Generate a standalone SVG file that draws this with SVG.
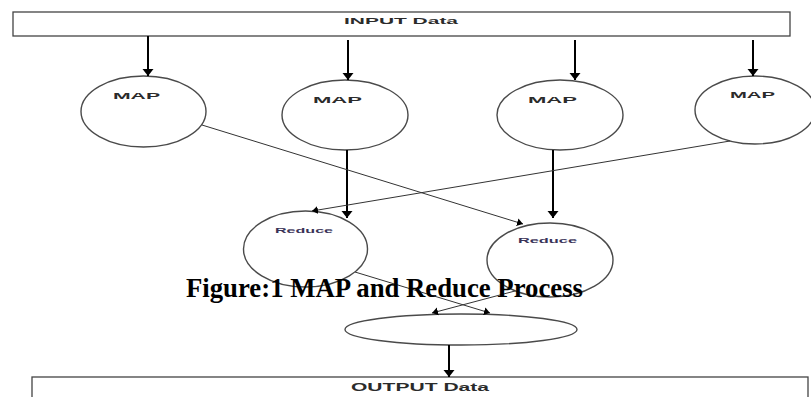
<svg xmlns="http://www.w3.org/2000/svg" width="811" height="397" viewBox="0 0 811 397">
<defs>
<style>
.box{fill:#fff;stroke:#444;stroke-width:1.3}
.node{fill:none;stroke:#4a4a4a;stroke-width:1.4}
.lbl{font-family:"Liberation Sans",Arial,sans-serif;font-weight:bold;fill:#2b2b2b}
.red{font-family:"Liberation Sans",Arial,sans-serif;font-weight:bold;fill:#3a3358}
.v{stroke:#000;stroke-width:2;fill:none}
.d{stroke:#333;stroke-width:1;fill:none}
.cap{font-family:"Liberation Serif","Times New Roman",serif;font-weight:bold;fill:#000}
</style>
<marker id="av" markerUnits="userSpaceOnUse" viewBox="0 0 7 12" markerWidth="7" markerHeight="12" refX="7" refY="6" orient="auto"><path d="M0,0.5 L7,6 L0,11.5 z" fill="#000"/></marker>
<marker id="ad" markerUnits="userSpaceOnUse" viewBox="0 0 6 9" markerWidth="6" markerHeight="9" refX="6" refY="4.5" orient="auto"><path d="M0,0.5 L6,4.5 L0,8.5 z" fill="#000"/></marker>
</defs>

<g id="input">
<rect class="box" x="13" y="12" width="777" height="24"/>
<text class="lbl" x="344" y="24" font-size="9.5" textLength="114" lengthAdjust="spacingAndGlyphs">INPUT Data</text>
</g>

<g id="map1">
<ellipse class="node" cx="143.5" cy="111.5" rx="62.5" ry="35.5"/>
<text class="lbl" x="113" y="99" font-size="9" textLength="47" lengthAdjust="spacingAndGlyphs">MAP</text>
</g>
<g id="map2">
<ellipse class="node" cx="345" cy="115" rx="63" ry="35"/>
<text class="lbl" x="313" y="103" font-size="9" textLength="49" lengthAdjust="spacingAndGlyphs">MAP</text>
</g>
<g id="map3">
<ellipse class="node" cx="560" cy="115" rx="63" ry="35"/>
<text class="lbl" x="528" y="103" font-size="9" textLength="49" lengthAdjust="spacingAndGlyphs">MAP</text>
</g>
<g id="map4">
<ellipse class="node" cx="755" cy="110" rx="60" ry="34"/>
<text class="lbl" x="730" y="98" font-size="9" textLength="45" lengthAdjust="spacingAndGlyphs">MAP</text>
</g>

<g id="reduce1">
<ellipse class="node" cx="305.5" cy="249" rx="62" ry="38"/>
<text class="red" x="275" y="233" font-size="8" textLength="58" lengthAdjust="spacingAndGlyphs">Reduce</text>
</g>
<g id="reduce2">
<ellipse class="node" cx="550" cy="260" rx="63" ry="37"/>
<text class="red" x="518" y="243" font-size="8" textLength="59" lengthAdjust="spacingAndGlyphs">Reduce</text>
</g>

<g id="combine">
<ellipse class="node" cx="461" cy="329.5" rx="116" ry="15.5"/>
</g>

<g id="output">
<rect class="box" x="32" y="377" width="776" height="30"/>
<text class="lbl" x="351" y="391" font-size="10" textLength="138" lengthAdjust="spacingAndGlyphs">OUTPUT Data</text>
</g>

<g id="connectors">
<line class="v" x1="148" y1="36" x2="148" y2="76" marker-end="url(#av)"/>
<line class="v" x1="348" y1="40" x2="348" y2="80" marker-end="url(#av)"/>
<line class="v" x1="575" y1="40" x2="575" y2="80" marker-end="url(#av)"/>
<line class="v" x1="753" y1="40" x2="753" y2="76" marker-end="url(#av)"/>
<line class="v" x1="347" y1="150" x2="347" y2="218" marker-end="url(#av)"/>
<line class="v" x1="553" y1="150" x2="553" y2="218" marker-end="url(#av)"/>
<line class="d" x1="202" y1="125" x2="523" y2="224" marker-end="url(#ad)"/>
<line class="d" x1="730" y1="141" x2="312" y2="211" marker-end="url(#ad)"/>
<line class="d" x1="355" y1="272" x2="490" y2="313" marker-end="url(#ad)"/>
<line class="d" x1="515" y1="291" x2="432" y2="313" marker-end="url(#ad)"/>
<line class="v" x1="449" y1="345" x2="449" y2="377" stroke-width="1.5" marker-end="url(#av)"/>
</g>

<text class="cap" x="186" y="297" font-size="28" textLength="397" lengthAdjust="spacingAndGlyphs">Figure:1 MAP and Reduce Process</text>
</svg>
